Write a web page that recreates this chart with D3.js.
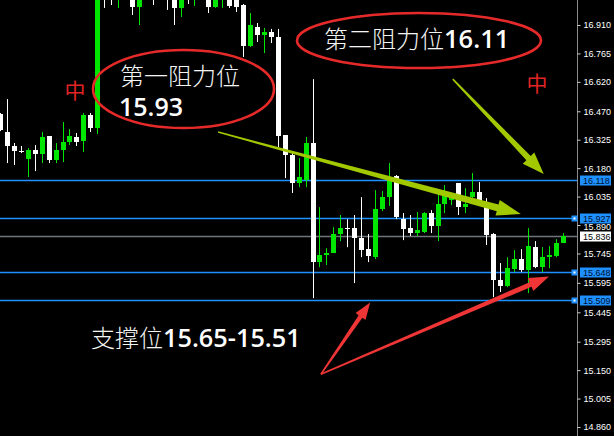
<!DOCTYPE html>
<html><head><meta charset="utf-8">
<script src="https://cdn.jsdelivr.net/npm/d3@7"></script>
<style>body{margin:0;background:#000;overflow:hidden}svg{display:block}</style>
</head><body>
<svg id="c" width="614" height="436"></svg>
<script>
// ---- data ----
const opens = [16.456,16.364,16.293,16.267,16.226,16.272,16.252,16.344,16.221,16.272,16.313,16.339,16.318,16.451,16.384,
 17.150,17.140,17.060,17.150,17.100,17.002,17.100,17.120,17.060,17.120,17.100,16.997,17.120,17.060,17.120,17.100,17.002,17.050,17.100,17.100,
 17.012,16.803,16.900,16.859,16.874,16.849,16.349,16.247,16.104,16.119,16.308,15.701,15.737,15.747,15.844,15.874,15.874,15.823,15.767,15.726,
 15.971,16.032,16.140,15.920,15.874,15.849,15.854,15.951,15.885,15.997,16.017,16.104,15.981,16.032,16.058,15.981,15.844,15.609,15.578,15.665,
 15.716,15.660,15.777,15.675,15.726,15.731,15.798];
const highs = [16.461,16.532,16.308,16.293,16.282,16.298,16.364,16.344,16.308,16.415,16.379,16.359,16.461,16.461,17.120,
 17.200,17.200,17.180,17.250,17.150,17.150,17.180,17.160,17.140,17.150,17.140,17.120,17.150,17.150,17.160,17.140,17.130,17.130,17.130,17.130,
 17.017,16.971,16.920,16.895,16.890,16.890,16.349,16.262,16.231,16.339,16.634,15.981,15.772,15.879,15.941,15.920,15.941,16.032,15.844,16.068,
 16.063,16.206,16.145,15.951,15.941,15.956,15.956,15.966,16.053,16.094,16.043,16.104,16.078,16.155,16.109,16.027,15.849,15.696,15.726,15.762,
 15.767,15.874,15.808,15.777,15.782,15.818,15.849];
const lows = [16.369,16.206,16.196,16.257,16.135,16.165,16.206,16.206,16.206,16.211,16.298,16.293,16.262,16.364,16.354,
 16.997,17.012,16.997,17.100,16.961,16.910,17.060,17.012,17.050,16.987,16.910,16.951,17.017,17.007,17.050,16.971,16.997,16.997,16.997,16.976,
 16.747,16.798,16.823,16.767,16.818,16.288,16.129,16.053,16.083,16.083,15.517,15.675,15.686,15.747,15.808,15.777,15.594,15.726,15.701,15.716,
 15.961,15.987,15.920,15.813,15.834,15.834,15.849,15.849,15.808,15.951,15.992,15.941,15.951,16.022,15.992,15.788,15.522,15.548,15.573,15.650,
 15.650,15.543,15.670,15.650,15.670,15.726,15.798];
const closes = [16.374,16.293,16.267,16.267,16.272,16.252,16.339,16.221,16.272,16.313,16.344,16.313,16.451,16.384,17.080,
 17.060,17.070,17.150,17.200,17.002,17.100,17.140,17.060,17.100,17.060,16.997,17.090,17.070,17.120,17.080,17.002,17.100,17.100,17.007,17.002,
 16.803,16.910,16.859,16.874,16.849,16.344,16.247,16.104,16.135,16.308,15.701,15.737,15.747,15.844,15.874,15.874,15.823,15.762,15.731,15.971,
 16.032,16.119,15.930,15.869,15.849,15.864,15.951,15.885,15.997,16.043,16.043,15.981,15.997,16.058,15.997,15.839,15.609,15.578,15.670,15.716,
 15.660,15.782,15.675,15.726,15.737,15.798,15.836];
const tickValues = [16.910,16.765,16.620,16.470,16.325,16.180,16.035,15.890,15.745,15.595,15.445,15.295,15.150,15.005,14.860];
const levelPrices = [16.118,15.927,15.648,15.509];
const levelMarkers = [false,true,true,true];
const currentPrice = 15.836;

// annotations in data space (candle index, price)
const yellowArrows = [
  {from:[31.4,16.364], to:[75.0,15.946], w0:1.5, w1:7, hl:24, hw:16},
  {from:[65.2,16.634], to:[78.3,16.150], w0:1.5, w1:6, hl:22, hw:16}
];
const redArrows = [
  {from:[46.2,15.129], to:[53.3,15.495], w0:1.5, w1:4.5, hl:17, hw:12},
  {from:[46.2,15.129], to:[79.05,15.627], w0:1.5, w1:5, hl:20, hw:14}
];

// ---- layout ----
const W = 614, H = 436, plotRight = 577;
const svg = d3.select("#c");
svg.append("rect").attr("width",W).attr("height",H).attr("fill","#000");

const x = d3.scaleLinear().domain([0,81]).range([0.06,562.5]);
const y = d3.scaleLinear().domain([14.860,16.910]).range([427,25]);

svg.append("defs").append("clipPath").attr("id","plot")
  .append("rect").attr("x",0).attr("y",0).attr("width",plotRight).attr("height",H);
const plot = svg.append("g").attr("clip-path","url(#plot)");

// level lines
const blue = "#1e90ff";
plot.selectAll("line.lvl").data(levelPrices).join("line").attr("class","lvl")
  .attr("x1",0).attr("x2",plotRight)
  .attr("y1",d=>Math.round(y(d))+0.5).attr("y2",d=>Math.round(y(d))+0.5)
  .attr("stroke",blue).attr("stroke-width",1.6);
plot.append("line").attr("x1",0).attr("x2",plotRight)
  .attr("y1",Math.round(y(currentPrice))+0.5).attr("y2",Math.round(y(currentPrice))+0.5)
  .attr("stroke","#6e747a").attr("stroke-width",1.4);

// candles
const idx = d3.range(opens.length);
const GREEN = "#00e600", WHITE = "#ffffff";
const col = i => closes[i] > opens[i] ? GREEN : WHITE;
const cg = plot.append("g");
cg.selectAll("line.wick").data(idx).join("line").attr("class","wick")
  .attr("x1",i=>Math.round(x(i))+0.5).attr("x2",i=>Math.round(x(i))+0.5)
  .attr("y1",i=>y(highs[i])).attr("y2",i=>y(lows[i]))
  .attr("stroke",col).attr("stroke-width",1);
cg.selectAll("rect.body").data(idx).join("rect").attr("class","body")
  .attr("x",i=>Math.round(x(i))-2).attr("width",5)
  .attr("y",i=>Math.round(y(Math.max(opens[i],closes[i]))))
  .attr("height",i=>Math.max(1,Math.round(y(Math.min(opens[i],closes[i])))-Math.round(y(Math.max(opens[i],closes[i])))))
  .attr("fill",col);

// arrows
function arrowPoints(a){
  const x1=x(a.from[0]), y1=y(a.from[1]), x2=x(a.to[0]), y2=y(a.to[1]);
  const dx=x2-x1, dy=y2-y1, L=Math.hypot(dx,dy), ux=dx/L, uy=dy/L, nx=-uy, ny=ux;
  const bx=x2-ux*a.hl, by=y2-uy*a.hl;
  return [[x1+nx*a.w0/2,y1+ny*a.w0/2],[bx+nx*a.w1/2,by+ny*a.w1/2],[bx+nx*a.hw/2,by+ny*a.hw/2],[x2,y2],
          [bx-nx*a.hw/2,by-ny*a.hw/2],[bx-nx*a.w1/2,by-ny*a.w1/2],[x1-nx*a.w0/2,y1-ny*a.w0/2]];
}
const line = d3.line();
svg.selectAll("path.ya").data(yellowArrows).join("path").attr("class","ya")
  .attr("d",d=>line(arrowPoints(d))+"Z").attr("fill","#a2c800");
svg.selectAll("path.ra").data(redArrows).join("path").attr("class","ra")
  .attr("d",d=>line(arrowPoints(d))+"Z").attr("fill","#ef3535");

// ellipses
const red = "#e62a2a";
svg.append("ellipse").attr("cx",183.5).attr("cy",89).attr("rx",90.5).attr("ry",39)
  .attr("fill","none").attr("stroke",red).attr("stroke-width",2.6);
svg.append("ellipse").attr("cx",419).attr("cy",40.5).attr("rx",122).attr("ry",27.5)
  .attr("fill","none").attr("stroke",red).attr("stroke-width",2.6);

// texts
const CJK = "'Noto Sans CJK SC','Noto Sans CJK JP',sans-serif";
const NUM = "'Open Sans','DejaVu Sans',sans-serif";
function mixed(xp, yp, cjk, num, cs, ns){
  const t = svg.append("text").attr("x",xp).attr("y",yp).attr("fill","#f4f4f4");
  if (cjk) t.append("tspan").text(cjk).attr("font-family",CJK).attr("font-size",cs).attr("font-weight",300);
  if (num) t.append("tspan").text(num).attr("font-family",NUM).attr("font-size",ns).attr("font-weight",600).attr("fill","#ffffff");
  return t;
}
mixed(120, 85, "第一阻力位", null, 24, 25);
mixed(119, 116, null, "15.93", 24, 25);
mixed(324, 48, "第二阻力位", "16.11", 24, 25.5);
mixed(91, 347, "支撑位", "15.65-15.51", 24, 25.3);

svg.selectAll("text.zh").data([[75,89],[537,82]]).join("text").attr("class","zh")
  .attr("x",d=>d[0]).attr("y",d=>d[1]).attr("text-anchor","middle").attr("dominant-baseline","central")
  .attr("font-family",CJK).attr("font-size",21).attr("fill","#e02424").text("中");

// price axis
svg.append("line").attr("x1",plotRight+0.5).attr("x2",plotRight+0.5).attr("y1",0).attr("y2",H)
  .attr("stroke","#8a8a8a").attr("stroke-width",1);
const axis = d3.axisRight(y).tickValues(tickValues).tickFormat(d3.format(".3f")).tickSize(3).tickPadding(3);
const ag = svg.append("g").attr("transform",`translate(${plotRight+0.5},0)`).call(axis);
ag.select(".domain").remove();
ag.selectAll(".tick line").attr("stroke","#cfcfcf");
ag.selectAll(".tick text").attr("fill","#ffffff").attr("font-family","'Liberation Sans',Arial,sans-serif").attr("font-size",9)
  .attr("dy", d => d === 15.890 ? "0.55em" : "0.32em");

// level labels
const lab = svg.append("g");
levelPrices.forEach((p,i)=>{
  const ly = Math.round(y(p))+0.5;
  lab.append("rect").attr("x",580).attr("y",ly-5).attr("width",31).attr("height",10).attr("fill",blue);
  lab.append("text").attr("x",583).attr("y",ly).attr("dominant-baseline","central")
    .attr("font-family","'Liberation Sans',Arial,sans-serif").attr("font-size",9).attr("fill","#001030").text(d3.format(".3f")(p));
  if (levelMarkers[i]) {
    lab.append("rect").attr("x",571.5).attr("y",ly-3).attr("width",6).attr("height",6).attr("fill",blue);
    lab.append("rect").attr("x",573.5).attr("y",ly-1).attr("width",2).attr("height",2).attr("fill","#ffffff");
  }
});
{
  const ly = Math.round(y(currentPrice))+0.5;
  lab.append("rect").attr("x",580).attr("y",ly-5).attr("width",31).attr("height",10).attr("fill","#ffffff");
  lab.append("text").attr("x",583).attr("y",ly).attr("dominant-baseline","central")
    .attr("font-family","'Liberation Sans',Arial,sans-serif").attr("font-size",9).attr("fill","#000").text(d3.format(".3f")(currentPrice));
}
</script>
</body></html>
